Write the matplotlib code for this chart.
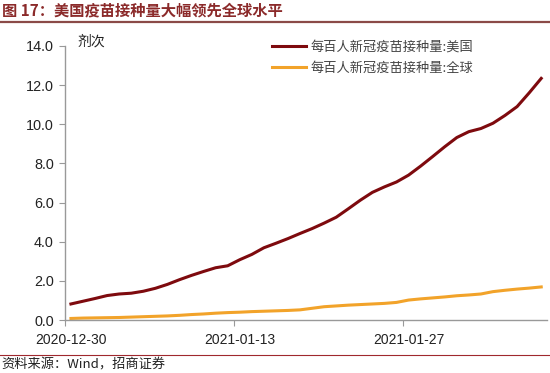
import matplotlib
matplotlib.use('Agg')
import matplotlib.pyplot as plt
from matplotlib.lines import Line2D
import numpy as np
import pandas as pd

plt.rcParams['font.family'] = ['Liberation Sans', 'Noto Sans CJK SC', 'DejaVu Sans']

# 每百人新冠疫苗接种量 (剂次), daily from 2020-12-30
dates = pd.date_range('2020-12-30', '2021-02-07', freq='D')
us = [0.82, 0.96, 1.10, 1.25, 1.33, 1.37, 1.47, 1.62, 1.82, 2.06,
      2.28, 2.48, 2.67, 2.77, 3.08, 3.35, 3.69, 3.92, 4.16, 4.42,
      4.67, 4.95, 5.25, 5.68, 6.12, 6.52, 6.80, 7.05, 7.40, 7.86,
      8.35, 8.85, 9.32, 9.62, 9.78, 10.05, 10.45, 10.90, 11.60, 12.34]
world = [0.08, 0.10, 0.11, 0.12, 0.13, 0.15, 0.17, 0.19, 0.21, 0.24,
         0.28, 0.31, 0.35, 0.38, 0.40, 0.43, 0.45, 0.47, 0.49, 0.52,
         0.60, 0.68, 0.72, 0.76, 0.79, 0.82, 0.85, 0.90, 1.02, 1.08,
         1.13, 1.18, 1.24, 1.28, 1.33, 1.45, 1.52, 1.58, 1.63, 1.69]
label_us = '每百人新冠疫苗接种量:美国'
label_world = '每百人新冠疫苗接种量:全球'
tick_dates = ['2020-12-30', '2021-01-13', '2021-01-27']
title = '图 17：美国疫苗接种量大幅领先全球水平'
source = '资料来源：Wind，招商证券'

fig = plt.figure(figsize=(5.5, 3.73), dpi=100)
ax = fig.add_axes([0.118, 0.142, 0.877, 0.735])

ax.plot(dates, us, color='#7E0A0E', lw=2.2, label=label_us)
ax.plot(dates, world, color='#F2A32A', lw=2.2, label=label_world)

half = pd.Timedelta(hours=12)
ax.set_xlim(dates[0] - half, dates[-1] + half)
ax.set_ylim(0, 14)
ax.set_yticks(np.arange(0, 14.1, 2))
ax.yaxis.set_major_formatter(matplotlib.ticker.FormatStrFormatter('%.1f'))

# tick marks sit between categories, labels at the category centre
td = pd.to_datetime(tick_dates)
ax.set_xticks(td - half)
ax.set_xticklabels([])
ax.set_xticks(td, minor=True)
ax.set_xticklabels(tick_dates, minor=True)
ax.tick_params(axis='x', which='minor', length=0, labelsize=10, pad=9, colors='#222222')
ax.tick_params(axis='x', which='major', length=4, color='#999999')
ax.tick_params(axis='y', length=4, color='#999999', labelsize=10.4, labelcolor='#222222', pad=4)

for s in ['top', 'right']:
    ax.spines[s].set_visible(False)
for s in ['left', 'bottom']:
    ax.spines[s].set_color('#999999')
    ax.spines[s].set_linewidth(1)

fig.text(77 / 550, 1 - 42 / 373, '剂次', fontsize=10,
         family=['Noto Sans CJK SC'], va='center', ha='left', color='#222222')

leg = ax.legend(loc='upper left', bbox_to_anchor=(0.405, 1.062), frameon=False,
                prop={'family': 'Noto Sans CJK SC', 'size': 9.5},
                handlelength=2.6, handletextpad=0.3, labelspacing=0.62)
for t in leg.get_texts():
    t.set_color('#444444')

fig.text(0.004, 0.972, title, fontsize=11, fontweight='bold', color='#8B2A2A',
         family=['Noto Sans CJK SC', 'DejaVu Sans'], va='center', ha='left')
fig.add_artist(Line2D([0, 1], [0.94, 0.94], color='#8B4A48', lw=1.6))
fig.add_artist(Line2D([0, 1], [0.048, 0.048], color='#A0282E', lw=0.8))
fig.text(0.002, 0.021, source, fontsize=9.5, color='#222222',
         family=['Noto Sans CJK SC', 'DejaVu Sans'], va='center', ha='left')

fig.savefig('out.png', dpi=100)
